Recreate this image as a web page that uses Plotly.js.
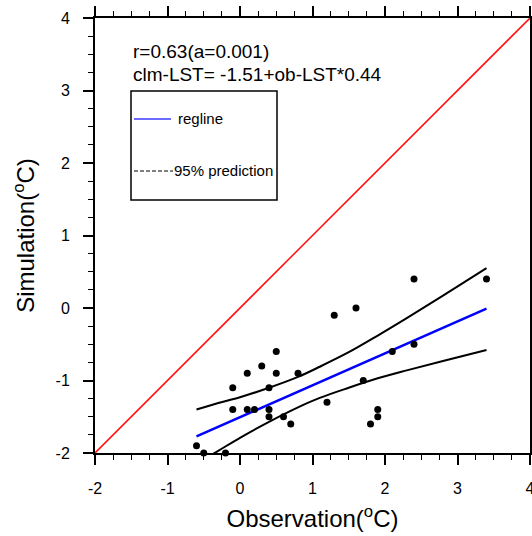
<!DOCTYPE html>
<html>
<head>
<meta charset="utf-8">
<script src="https://cdn.plot.ly/plotly-3.0.1.min.js"></script>
<style>html,body{margin:0;padding:0;background:#fff;}#chart{width:532px;height:536px;}</style>
</head>
<body>
<div id="chart"></div>
<script>
// observed vs simulated LST anomalies (°C)
var obs = [0.5, 0.1, 0.3, 0.5, 0.8, -0.1, 0.4, -0.1, 0.1, 0.2, 0.4, 0.4, 0.6, 0.7, -0.6, -0.5, -0.2, 2.4, 3.4, 1.6, 1.3, 2.4, 2.1, 1.7, 1.2, 1.9, 1.9, 1.8];
var sim = [-0.6, -0.9, -0.8, -0.9, -0.9, -1.1, -1.1, -1.4, -1.4, -1.4, -1.4, -1.5, -1.5, -1.6, -1.9, -2.0, -2.0, 0.4, 0.4, 0.0, -0.1, -0.5, -0.6, -1.0, -1.3, -1.4, -1.5, -1.6];

// regression line
var regX = [-0.6, 3.4];
var regY = [-1.77, -0.01];

// 95% prediction band
var bandX = [-0.6, -0.3, 0.0, 0.4, 0.8, 1.1, 1.5, 1.9, 2.3, 2.8, 3.4];
var bandUpper = [-1.40, -1.31, -1.23, -1.10, -0.95, -0.81, -0.61, -0.38, -0.14, 0.17, 0.55];
var bandLower = [-2.15, -1.97, -1.79, -1.57, -1.37, -1.24, -1.10, -0.97, -0.86, -0.73, -0.58];

// 1:1 line
var oneX = [-2, 4];
var oneY = [-2, 4];

var xTicks = [-2, -1, 0, 1, 2, 3, 4];
var yTicks = [-2, -1, 0, 1, 2, 3, 4];

var statText1 = "r=0.63(a=0.001)";
var statText2 = "clm-LST= -1.51+ob-LST*0.44";
var legendText1 = "regline";
var legendText2 = "95% prediction";

var FONT = "Liberation Sans, Arial, Helvetica, sans-serif";

var traces = [
  {x: oneX, y: oneY, mode: 'lines', line: {color: '#ff1a1a', width: 1.6}, hoverinfo: 'skip'},
  {x: bandX, y: bandUpper, mode: 'lines', line: {color: '#000', width: 2, shape: 'spline', smoothing: 1}, hoverinfo: 'skip'},
  {x: bandX, y: bandLower, mode: 'lines', line: {color: '#000', width: 2, shape: 'spline', smoothing: 1}, hoverinfo: 'skip'},
  {x: regX, y: regY, mode: 'lines', line: {color: '#0000ff', width: 2.5}, hoverinfo: 'skip'},
  {x: obs, y: sim, mode: 'markers', marker: {color: '#000', size: 7}, cliponaxis: false}
];

function axis(ticks, title, standoff) {
  return {
    range: [-2, 4],
    tickvals: ticks,
    ticktext: ticks.map(String),
    ticks: 'outside', ticklen: 10, tickwidth: 2, tickcolor: '#000',
    ticklabelstandoff: 10,
    ticklabeloverflow: 'allow',
    showline: true, linewidth: 2, linecolor: '#000', mirror: 'ticks',
    showgrid: false, zeroline: false,
    tickfont: {family: FONT, size: 16, color: '#000'},
    minor: {dtick: 0.25, tick0: -2, ticks: 'outside', ticklen: 5, tickwidth: 1.2, tickcolor: '#000', showgrid: false},
    title: {text: title, font: {family: FONT, size: 24, color: '#000'}, standoff: standoff},
    fixedrange: true
  };
}

var px = function (p) { return (p - 95) / 435; };
var py = function (p) { return (453 - p) / 435; };

var layout = {
  width: 532, height: 536,
  margin: {l: 95, r: 2, t: 18, b: 83, pad: 0},
  paper_bgcolor: '#fff', plot_bgcolor: '#fff',
  showlegend: false,
  xaxis: axis(xTicks, 'Observation(<sup>o</sup>C)', 14),
  yaxis: axis(yTicks, 'Simulation(<sup>o</sup>C)', 14),
  shapes: [
    {type: 'rect', xref: 'paper', yref: 'paper', x0: px(131), x1: px(277), y0: py(200), y1: py(91), line: {color: '#000', width: 1.5}, layer: 'above'},
    {type: 'line', xref: 'paper', yref: 'paper', x0: px(134), x1: px(171), y0: py(119), y1: py(119), line: {color: '#3a3aff', width: 1.5}},
    {type: 'line', xref: 'paper', yref: 'paper', x0: px(134), x1: px(173), y0: py(171), y1: py(171), line: {color: '#000', width: 1, dash: '4px,2px'}}
  ],
  annotations: [
    {xref: 'paper', yref: 'paper', x: px(131), y: py(51), xanchor: 'left', yanchor: 'middle', showarrow: false, text: statText1, font: {family: FONT, size: 19, color: '#000'}},
    {xref: 'paper', yref: 'paper', x: px(131), y: py(74), xanchor: 'left', yanchor: 'middle', showarrow: false, text: statText2, font: {family: FONT, size: 19, color: '#000'}},
    {xref: 'paper', yref: 'paper', x: px(176), y: py(119), xanchor: 'left', yanchor: 'middle', showarrow: false, text: legendText1, font: {family: FONT, size: 15, color: '#000'}},
    {xref: 'paper', yref: 'paper', x: px(172), y: py(170), xanchor: 'left', yanchor: 'middle', showarrow: false, text: legendText2, font: {family: FONT, size: 15, color: '#000'}}
  ]
};

Plotly.newPlot('chart', traces, layout, {displayModeBar: false, staticPlot: true});
</script>
</body>
</html>
